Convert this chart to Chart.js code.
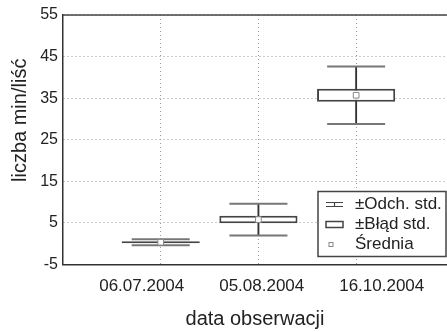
<!DOCTYPE html>
<html>
<head>
<meta charset="utf-8">
<script src="https://cdn.jsdelivr.net/npm/chart.js@4.4.1/dist/chart.umd.min.js"></script>
<style>html,body{margin:0;padding:0;background:#fff}</style>
</head>
<body>
<canvas id="chart" width="447" height="332"></canvas>
<script>
// values
const dates = ['06.07.2004', '05.08.2004', '16.10.2004'];
const means = [0.35, 5.8, 35.7];
const stdErr = [0.25, 0.9, 1.55];
const stdDev = [0.75, 3.8, 6.9];
const yTicks = [-5, 5, 15, 25, 35, 45, 55];
const legendNames = ['±Odch. std.', '±Błąd std.', 'Średnia'];

const font = 'Liberation Sans, Arial, sans-serif';
const ink = '#222';
const pos = dates.map((d, i) => i + 1);
const spread = arr => pos.map((x, i) => ({ x, y: [means[i] - arr[i], means[i] + arr[i]] }));
const caps = pos.flatMap((x, i) => [{ x, y: means[i] + stdDev[i] }, { x, y: means[i] - stdDev[i] }]);

function noPad(s) {
  s.paddingLeft = s.paddingRight = s.paddingTop = s.paddingBottom = 0;
}

// top frame line + legend box drawn by hand
const extras = {
  id: 'extras',
  afterDraw(chart) {
    const { ctx, chartArea: a } = chart;
    ctx.save();
    ctx.strokeStyle = '#444';
    ctx.lineWidth = 1.5;
    ctx.beginPath();
    ctx.moveTo(a.left, a.top);
    ctx.lineTo(a.right, a.top);
    ctx.stroke();

    const w = 128, h = 65;
    const x0 = a.right - w - 1, y0 = a.bottom - h - 8;
    ctx.fillStyle = '#fff';
    ctx.fillRect(x0, y0, w, h);
    ctx.strokeRect(x0, y0, w, h);

    const rows = [y0 + 13, y0 + 33, y0 + 53];
    // whisker symbol
    ctx.strokeStyle = '#444';
    ctx.lineWidth = 1.2;
    ctx.beginPath();
    ctx.moveTo(x0 + 8, rows[0] - 2); ctx.lineTo(x0 + 25, rows[0] - 2);
    ctx.moveTo(x0 + 8, rows[0] + 2); ctx.lineTo(x0 + 25, rows[0] + 2);
    ctx.moveTo(x0 + 16.5, rows[0] - 2); ctx.lineTo(x0 + 16.5, rows[0] + 2);
    ctx.stroke();
    // box symbol
    ctx.lineWidth = 1.5;
    ctx.strokeRect(x0 + 8, rows[1] - 3, 17, 6);
    // mean symbol
    ctx.strokeStyle = '#888';
    ctx.lineWidth = 1;
    ctx.strokeRect(x0 + 11, rows[2] - 2, 4, 4);

    ctx.fillStyle = ink;
    ctx.font = '17px ' + font;
    ctx.textBaseline = 'middle';
    legendNames.forEach((t, i) => ctx.fillText(t, x0 + 37, rows[i]));
    ctx.restore();
  }
};

new Chart(document.getElementById('chart'), {
  type: 'bar',
  data: {
    datasets: [
      {
        type: 'line', label: 'Średnia', data: pos.map((x, i) => ({ x, y: means[i] })),
        showLine: false, pointStyle: 'rect', pointRadius: 4,
        pointBackgroundColor: '#fff', pointBorderColor: '#888', pointBorderWidth: 1
      },
      {
        type: 'line', label: 'caps', data: caps,
        showLine: false, pointStyle: 'line', pointRadius: 29,
        pointBorderColor: '#777', pointBorderWidth: 2
      },
      {
        label: '±Błąd std.', data: spread(stdErr), grouped: false,
        backgroundColor: '#fff', borderColor: '#444', borderWidth: 2, borderSkipped: false,
        categoryPercentage: 1, barPercentage: 0.8
      },
      {
        label: '±Odch. std.', data: spread(stdDev), grouped: false,
        backgroundColor: '#333', barThickness: 1.2
      }
    ]
  },
  options: {
    responsive: false,
    devicePixelRatio: 1,
    animation: false,
    layout: { autoPadding: false, padding: { top: 15, left: 0, right: 0, bottom: 0 } },
    plugins: { legend: { display: false }, tooltip: { enabled: false } },
    scales: {
      x: {
        type: 'linear', min: 0, max: 3.93, offset: false, weight: 0,
        afterBuildTicks: s => { s.ticks = pos.map(v => ({ value: v })); },
        afterFit: s => { s.height = 0; noPad(s); },
        ticks: { display: false },
        grid: { offset: false, color: '#999', lineWidth: 1, drawTicks: false },
        border: { color: '#333', width: 1.5, dash: [1, 3] }
      },
      // labels sit on their own scale, spaced as in the picture
      xl: {
        type: 'linear', position: 'bottom', min: 0.344, max: 3.544, weight: 1, offset: false,
        afterBuildTicks: s => { s.ticks = pos.map(v => ({ value: v })); },
        afterFit: s => { s.height = 67.5; noPad(s); },
        grid: { display: false, drawTicks: false, offset: false },
        border: { display: false },
        ticks: {
          callback: v => dates[v - 1], autoSkip: false, maxRotation: 0,
          font: { size: 17, family: font }, color: ink, padding: 12
        },
        title: {
          display: true, text: 'data obserwacji', color: ink,
          font: { size: 20, family: font }, padding: { top: 0, bottom: 1 }
        }
      },
      y: {
        type: 'linear', min: -5, max: 55,
        afterBuildTicks: s => { s.ticks = yTicks.map(v => ({ value: v })); },
        afterFit: s => { s.width = 63; noPad(s); },
        ticks: { font: { size: 16, family: font }, color: ink, padding: 5 },
        grid: { color: '#999', lineWidth: 1, drawTicks: false },
        border: { color: '#333', width: 1.5, dash: [1, 3] },
        title: {
          display: true, text: '       liczba min/liść', color: ink,
          font: { size: 20, family: font }, padding: { top: 8, bottom: 0 }
        }
      }
    }
  },
  plugins: [extras]
});
</script>
</body>
</html>
